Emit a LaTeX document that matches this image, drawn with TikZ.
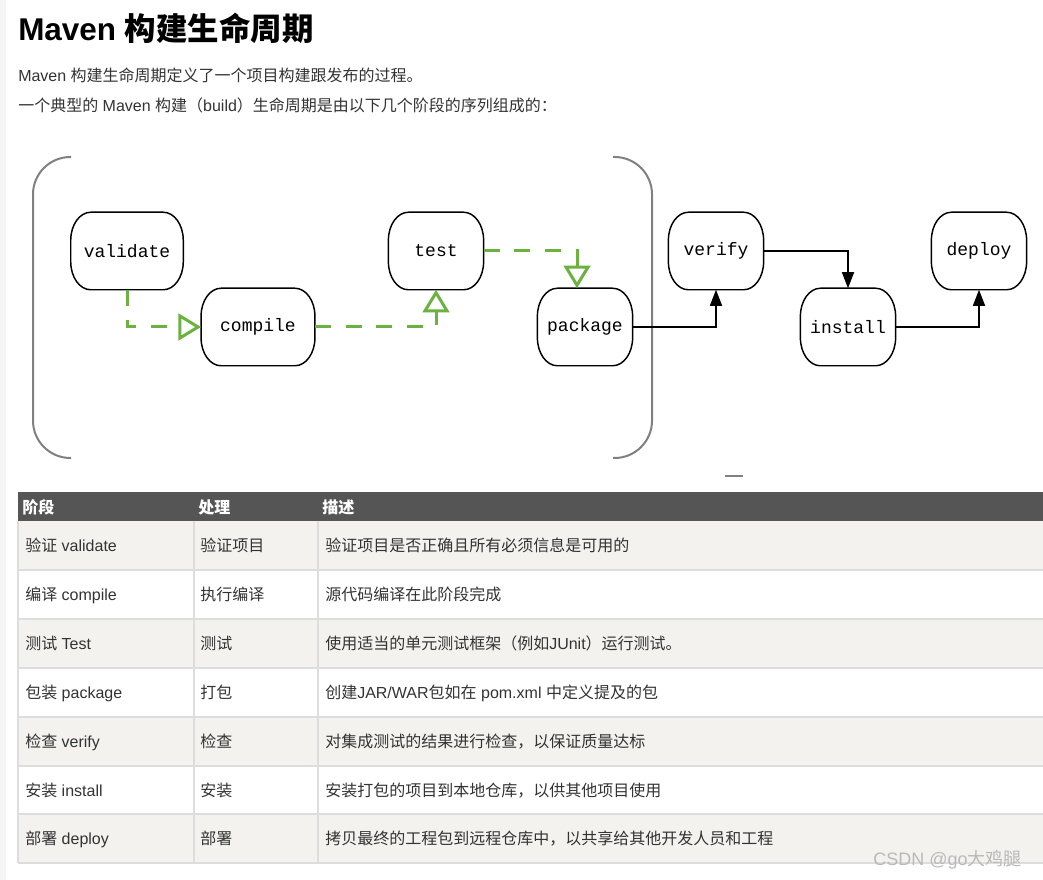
\documentclass[tikz,border=0pt]{standalone}
\usepackage{fontspec}
\setmainfont{Liberation Sans}
\setmonofont{Liberation Mono}
\newfontfamily\cjk{Noto Sans CJK SC}
\usetikzlibrary{arrows.meta,positioning}

\definecolor{mvgreen}{RGB}{108,178,64}
\definecolor{hdgray}{RGB}{85,85,85}
\definecolor{rowgray}{RGB}{243,242,239}
\definecolor{linegray}{RGB}{221,221,221}
\definecolor{txt}{RGB}{51,51,51}
\definecolor{wmgray}{RGB}{185,185,185}

\begin{document}
\begin{tikzpicture}[x=0.75pt,y=-0.75pt,
 ph/.style={minimum width=71pt,minimum height=57.75pt,inner sep=0pt,font=\ttfamily\fontsize{13.5}{16}\selectfont},
 gr/.style={mvgreen,line width=2.25pt,dash pattern=on 12pt off 11pt,-{Triangle[open,length=17pt,width=20pt]}},
 bk/.style={line width=1.1pt,-{Triangle[length=12pt,width=9pt]}},
 brk/.style={draw=gray,line width=1.5pt,rounded corners=28pt},
 cell/.style={anchor=base west,inner sep=0pt,text=txt,font=\fontsize{12}{14}\selectfont},
 hd/.style={anchor=base west,inner sep=0pt,text=white,font=\bfseries\fontsize{12}{14}\selectfont}]
\useasboundingbox (0,0) rectangle (1043,880);
\fill[white] (0,0) rectangle (1043,880);
\fill[gray!8] (0,0) rectangle (6,880);

% heading and intro
\node[anchor=base west,inner sep=0pt,font=\bfseries\fontsize{23.6}{28}\selectfont] (title) at (18,41) {Maven {\cjk 构建生命周期}};
\node[anchor=base west,inner sep=0pt,text=txt,font=\fontsize{12}{14}\selectfont] (intro1) at (18,82) {Maven {\cjk 构建生命周期定义了一个项目构建跟发布的过程。}};
\node[anchor=base west,inner sep=0pt,text=txt,font=\fontsize{12}{14}\selectfont] (intro2) at (18,112) {{\cjk 一个典型的} Maven {\cjk 构建（}build{\cjk ）生命周期是由以下几个阶段的序列组成的：}};

% lifecycle diagram
\draw[brk] (71,157) -- (33,157) -- (33,458) -- (71,458);
\draw[brk] (613,157) -- (652,157) -- (652,458) -- (613,458);
\draw[gray,line width=1.2pt] (725,476) -- (743,476);

\node[ph,minimum width=84pt] (validate) at (127,251) {validate};
\node[ph,minimum width=85pt] (compile) at (258,327) {compile};
\node[ph] (test) at (436,251) {test};
\node[ph] (package) at (585,327) {package};
\node[ph] (verify) at (716,251) {verify};
\node[ph] (install) at (848,327) {install};
\node[ph] (deploy) at (979,251) {deploy};
\foreach \n in {validate,compile,test,package,verify,install,deploy}
  \draw[line width=1.1pt,line join=round] ([xshift=15pt]\n.south west) -- ([xshift=-15pt]\n.south east)
    arc[start angle=-90,end angle=0,x radius=15pt,y radius=21pt] -- ([yshift=-21pt]\n.north east)
    arc[start angle=0,end angle=90,x radius=15pt,y radius=21pt] -- ([xshift=15pt]\n.north west)
    arc[start angle=90,end angle=180,x radius=15pt,y radius=21pt] -- ([yshift=21pt]\n.south west)
    arc[start angle=180,end angle=270,x radius=15pt,y radius=21pt] -- cycle;

\draw[gr] (validate.south) |- (compile.west);
\draw[gr] (compile.east) -| (test.south);
\draw[gr] (test.east) -| ([xshift=-6pt]package.north);
\draw[bk] (package.east) -| (verify.south);
\draw[bk] (verify.east) -| (install.north);
\draw[bk] (install.east) -| (deploy.south);

% table
\fill[hdgray] (18,492) rectangle (1043,521);
\foreach \k in {0,2,4,6} \fill[rowgray] (18,{521+48.9*\k}) rectangle (1043,{569.9+48.9*\k});
\foreach \k in {1,...,7} \draw[linegray,line width=1.5pt] (18,{521+48.9*\k}) -- (1043,{521+48.9*\k});
\foreach \x in {18,194,318} \draw[linegray,line width=1.2pt] (\x,521) -- (\x,863.3);
\node[hd] (h1) at (22,513) {\cjk 阶段};
\node[hd] (h2) at (198,513) {\cjk 处理};
\node[hd] (h3) at (322,513) {\cjk 描述};
\foreach \k/\a/\b/\c in {
 0/{{\cjk 验证} validate}/{\cjk 验证项目}/{\cjk 验证项目是否正确且所有必须信息是可用的},
 1/{{\cjk 编译} compile}/{\cjk 执行编译}/{\cjk 源代码编译在此阶段完成},
 2/{{\cjk 测试} Test}/{\cjk 测试}/{{\cjk 使用适当的单元测试框架（例如}JUnit{\cjk ）运行测试。}},
 3/{{\cjk 包装} package}/{\cjk 打包}/{{\cjk 创建}JAR/WAR{\cjk 包如在} pom.xml {\cjk 中定义提及的包}},
 4/{{\cjk 检查} verify}/{\cjk 检查}/{\cjk 对集成测试的结果进行检查，以保证质量达标},
 5/{{\cjk 安装} install}/{\cjk 安装}/{\cjk 安装打包的项目到本地仓库，以供其他项目使用},
 6/{{\cjk 部署} deploy}/{\cjk 部署}/{\cjk 拷贝最终的工程包到远程仓库中，以共享给其他开发人员和工程}}
{
 \node[cell] (a\k) at (25,{551.5+48.9*\k}) {\a};
 \node[cell] (b\k) at (200,{551.5+48.9*\k}) {\b};
 \node[cell] (c\k) at (325,{551.5+48.9*\k}) {\c};
}

\node[anchor=base west,inner sep=0pt,text=wmgray,font=\fontsize{13.5}{16}\selectfont] (wm) at (873,865) {CSDN @go{\cjk 大鸡腿}};
\end{tikzpicture}
\end{document}
